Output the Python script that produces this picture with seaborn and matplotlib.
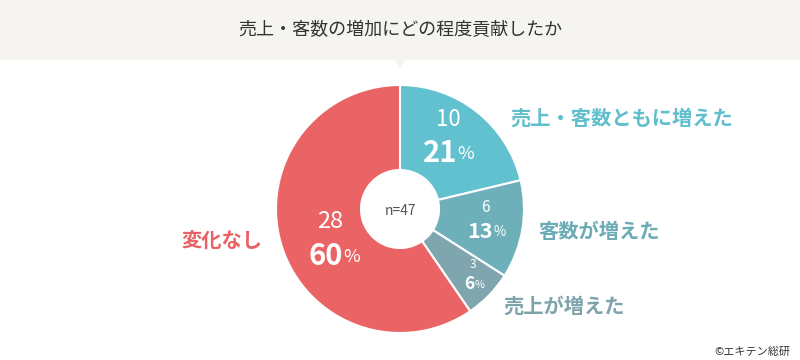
import matplotlib
matplotlib.use("Agg")
import matplotlib.pyplot as plt
import seaborn as sns
from matplotlib.patches import Rectangle, Polygon

# --- data ---
title = "売上・客数の増加にどの程度貢献したか"
categories = ["売上・客数ともに増えた", "客数が増えた", "売上が増えた", "変化なし"]
counts = [10, 6, 3, 28]
percents = [21, 13, 6, 60]
total_label = "n=47"
source = "©エキテン総研"

slice_colors = ["#62c1ce", "#6eb0b9", "#7fa6ae", "#ea6465"]
label_colors = ["#5fbfcc", "#6aabb5", "#7ea3ab", "#e96164"]

sns.set_theme(style="white")
plt.rcParams['font.family'] = ['Noto Sans CJK JP', 'DejaVu Sans']

W, H = 800, 360


def Y(py):
    # pixel row (from top) -> data y
    return H - py


fig = plt.figure(figsize=(8, 3.6), dpi=100)
ax = fig.add_axes([0, 0, 1, 1])

# header band + pointer
ax.add_patch(Rectangle((0, Y(60)), W, 60, color="#f5f4f0", zorder=0, lw=0))
ax.add_patch(Polygon([(394, Y(60)), (406, Y(60)), (400, Y(69))], closed=True,
                     color="#f5f4f0", zorder=0, lw=0))
ax.text(400, Y(30), title, ha="center", va="center", fontsize=13, color="#333333")

# donut
cx, cy, r, r_in = 400, 209, 124, 39
ax.pie(counts, colors=slice_colors, startangle=90, counterclock=False,
       center=(cx, Y(cy)), radius=r, frame=True,
       wedgeprops=dict(width=r - r_in, edgecolor="white", linewidth=1.5))

ax.text(cx, Y(211), total_label, ha="center", va="center", fontsize=10, color="#555555")

# value labels: (count x, count y, count size, pct split x, pct y, pct size)
val_pos = [
    (448, 120, 16, 457, 153, 21),
    (485, 208, 11, 493, 231, 15.5),
    (473, 265, 8.5, 474, 284, 12.5),
    (330, 222, 17, 343, 256, 21),
]
for c, p, (x1, y1, s1, xs, y2, s2) in zip(counts, percents, val_pos):
    ax.text(x1, Y(y1), str(c), ha="center", va="center", fontsize=s1, color="white")
    ax.text(xs, Y(y2), str(p), ha="right", va="center", fontsize=s2,
            color="white", fontweight="bold")
    ax.text(xs + 0.5, Y(y2 + 1), "%", ha="left", va="center", fontsize=s2 * 0.62,
            color="white")

# category labels
cat_pos = [(510, 118, "left"), (538, 232, "left"), (503, 306, "left"), (262, 240, "right")]
for cat, col, (x, y, ha) in zip(categories, label_colors, cat_pos):
    ax.text(x, Y(y), cat, ha=ha, va="center", fontsize=14.6, color=col, fontweight="bold")

ax.text(790, Y(352), source, ha="right", va="center", fontsize=8, color="#333333")

ax.set_xlim(0, W)
ax.set_ylim(0, H)
ax.set_aspect("auto")
ax.axis("off")

fig.savefig("out.png", dpi=100, facecolor="white")
